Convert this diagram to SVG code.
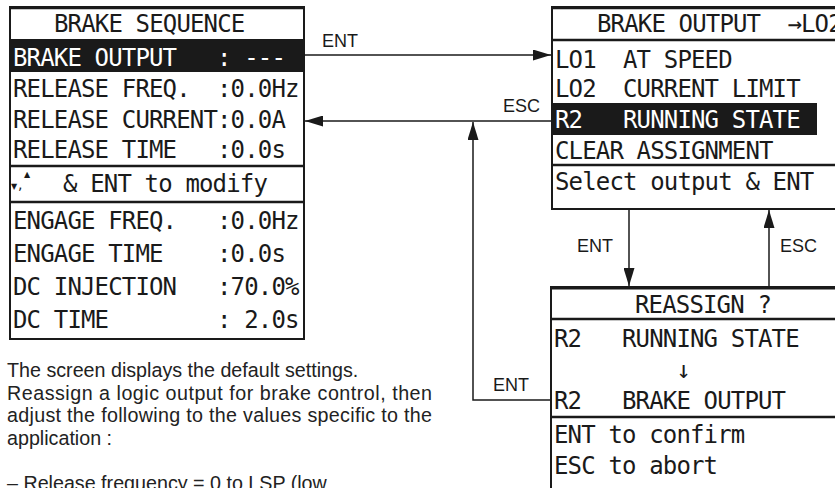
<svg xmlns="http://www.w3.org/2000/svg" width="835" height="488" viewBox="0 0 835 488" xml:space="preserve">
<defs>
<style>
.lcd{font-family:"DejaVu Sans Mono","Liberation Mono",monospace;font-size:24px;letter-spacing:-0.85px;fill:#1a1a1a;white-space:pre}
.sym{font-family:"DejaVu Sans","DejaVu Sans Mono",sans-serif;letter-spacing:0;fill:#1a1a1a}
.inv{fill:#ffffff}
.box{fill:#ffffff;stroke:#1a1a1a;stroke-width:2}
.sep{stroke:#1a1a1a;stroke-width:2.5;fill:none}
.bar{fill:#1a1a1a}
.con{stroke:#1a1a1a;stroke-width:1.5;fill:none}
.lbl{font-family:"Liberation Sans",Arial,sans-serif;font-size:18px;fill:#1a1a1a}
.para{font-family:"Liberation Sans",Arial,sans-serif;font-size:19.7px;fill:#222222;white-space:pre}
</style>
<marker id="ah" viewBox="0 0 18 11" refX="18" refY="5.5" markerWidth="18" markerHeight="11" markerUnits="userSpaceOnUse" orient="auto">
<path d="M0,0 L18,5.5 L0,11 z" fill="#1a1a1a"/>
</marker>
</defs>
<rect width="835" height="488" fill="#ffffff"/>

<g id="brake-sequence">
<rect class="box" x="10" y="7" width="294" height="332"/>
<rect class="bar" x="10" y="39" width="294" height="33"/>
<line class="sep" x1="10" y1="8" x2="304" y2="8"/>
<line class="sep" x1="10" y1="166" x2="304" y2="166"/>
<line class="sep" x1="10" y1="202" x2="304" y2="202"/>
<text class="lcd" x="54" y="32">BRAKE SEQUENCE</text>
<text class="lcd inv" x="13" y="66">BRAKE OUTPUT   : ---</text>
<text class="lcd" x="13" y="97">RELEASE FREQ.  :0.0Hz</text>
<text class="lcd" x="13" y="128">RELEASE CURRENT:0.0A</text>
<text class="lcd" x="13" y="158">RELEASE TIME   :0.0s</text>
<text class="sym" x="11" y="189" font-size="8">▼</text>
<text class="sym" x="18" y="189" font-size="14">,</text>
<text class="sym" x="24" y="177" font-size="8">▲</text>
<text class="lcd" x="63" y="192">&amp; ENT to modify</text>
<text class="lcd" x="13" y="229">ENGAGE FREQ.   :0.0Hz</text>
<text class="lcd" x="13" y="262">ENGAGE TIME    :0.0s</text>
<text class="lcd" x="13" y="295">DC INJECTION   :70.0%</text>
<text class="lcd" x="13" y="328">DC TIME        : 2.0s</text>
</g>

<g id="brake-output">
<rect class="box" x="552" y="7" width="300" height="202"/>
<line class="sep" x1="552" y1="8" x2="835" y2="8"/>
<line class="sep" x1="552" y1="40" x2="835" y2="40"/>
<line class="sep" x1="552" y1="165" x2="835" y2="165"/>
<rect class="bar" x="552" y="103" width="265" height="32"/>
<text class="lcd" x="597" y="32">BRAKE OUTPUT  →LO2</text>
<text class="lcd" x="555" y="68">LO1  AT SPEED</text>
<text class="lcd" x="555" y="97">LO2  CURRENT LIMIT</text>
<text class="lcd inv" x="555" y="128">R2   RUNNING STATE</text>
<text class="lcd" x="555" y="159">CLEAR ASSIGNMENT</text>
<text class="lcd" x="555" y="190">Select output &amp; ENT</text>
</g>

<g id="reassign">
<rect class="box" x="551" y="287" width="300" height="210"/>
<line class="sep" x1="551" y1="288" x2="835" y2="288" style="stroke-width:3"/>
<line class="sep" x1="551" y1="319" x2="835" y2="319"/>
<line class="sep" x1="551" y1="417" x2="835" y2="417"/>
<text class="lcd" x="635" y="313">REASSIGN ?</text>
<text class="lcd" x="554" y="347">R2   RUNNING STATE</text>
<text class="lcd" x="554" y="378">         ↓</text>
<text class="lcd" x="554" y="409">R2   BRAKE OUTPUT</text>
<text class="lcd" x="554" y="443">ENT to confirm</text>
<text class="lcd" x="554" y="474">ESC to abort</text>
</g>

<g id="connectors">
<line class="con" x1="304" y1="55" x2="551" y2="55" marker-end="url(#ah)"/>
<line class="con" x1="552" y1="121" x2="305" y2="121" marker-end="url(#ah)"/>
<path class="con" d="M551,400 H473 V122" marker-end="url(#ah)"/>
<line class="con" x1="629" y1="209" x2="629" y2="286" marker-end="url(#ah)"/>
<line class="con" x1="769" y1="287" x2="769" y2="210" marker-end="url(#ah)"/>
<text class="lbl" x="322" y="47">ENT</text>
<text class="lbl" x="503" y="112">ESC</text>
<text class="lbl" x="493" y="391">ENT</text>
<text class="lbl" x="577" y="252">ENT</text>
<text class="lbl" x="780" y="252">ESC</text>
</g>

<g id="description">
<text class="para" x="7" y="377">The screen displays the default settings.</text>
<text class="para" x="7" y="400" textLength="425" lengthAdjust="spacing">Reassign a logic output for brake control, then</text>
<text class="para" x="7" y="422" textLength="425" lengthAdjust="spacing">adjust the following to the values specific to the</text>
<text class="para" x="7" y="445">application :</text>
<text class="para" x="7" y="490">– Release frequency = 0 to LSP (low</text>
</g>
</svg>
